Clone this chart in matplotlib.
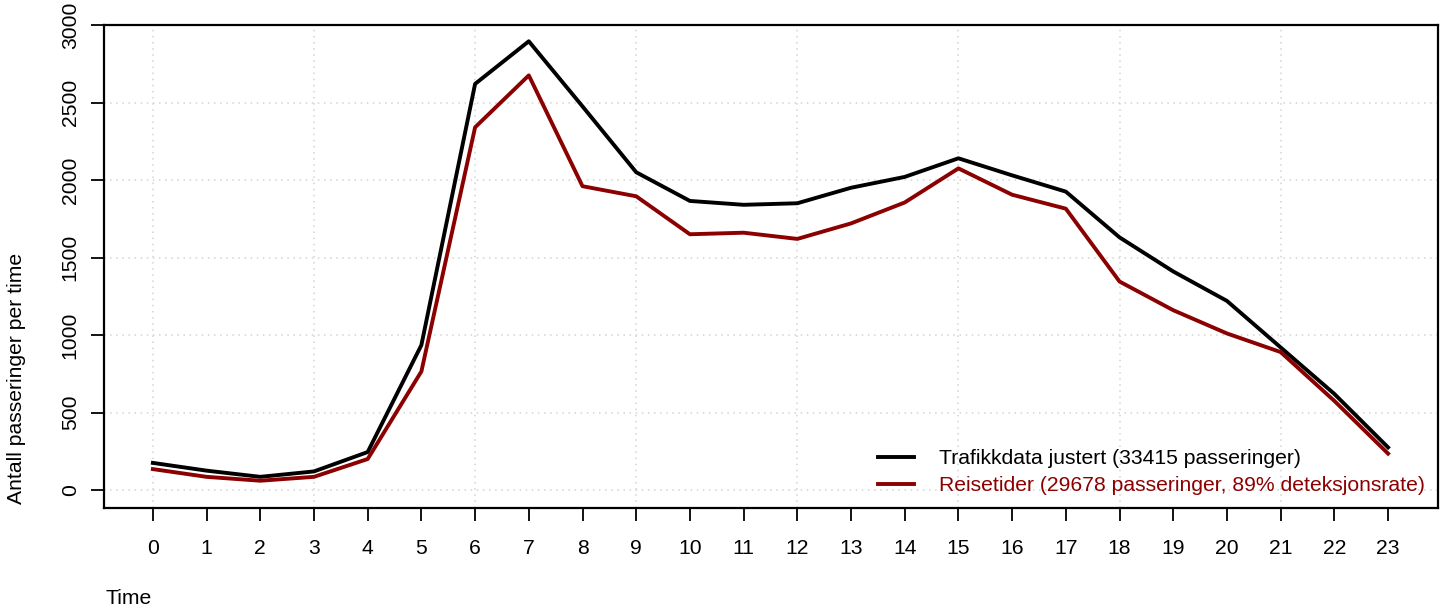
import matplotlib
matplotlib.use("Agg")
import matplotlib.pyplot as plt

hours = list(range(24))
trafikk = [175, 125, 85, 120, 245, 935, 2620, 2895, 2475, 2050, 1865, 1840,
           1850, 1950, 2020, 2140, 2030, 1925, 1630, 1410, 1220, 920, 620, 275]
reise = [135, 85, 60, 85, 200, 765, 2340, 2675, 1960, 1895, 1650, 1660,
         1620, 1720, 1855, 2075, 1905, 1815, 1345, 1160, 1010, 890, 575, 235]
label_trafikk = "Trafikkdata justert (33415 passeringer)"
label_reise = "Reisetider (29678 passeringer, 89% deteksjonsrate)"
yticks = [0, 500, 1000, 1500, 2000, 2500, 3000]
grid_x = [0, 3, 6, 9, 12, 15, 18, 21]

plt.rcParams['font.family'] = ['Liberation Sans', 'DejaVu Sans']
fs = 15.2

fig = plt.figure(figsize=(14.49, 6.12), dpi=100)
ax = fig.add_axes([104/1449, (612-508)/612, (1438-104)/1449, (508-25)/612])

for g in yticks:
    ax.axhline(g, color='#D3D3D3', lw=1.1, ls=(0, (1, 3)), zorder=0)
for g in grid_x:
    ax.axvline(g, color='#D3D3D3', lw=1.1, ls=(0, (1, 3)), zorder=0)

ax.plot(hours, trafikk, color='black', lw=2.8, label=label_trafikk, solid_joinstyle='round')
ax.plot(hours, reise, color='#8B0000', lw=2.8, label=label_reise, solid_joinstyle='round')

ax.set_xlim(-0.91, 23.93)
ax.set_ylim(-116, 3000)
ax.set_xticks(hours)
ax.set_xticklabels([str(h) for h in hours], fontsize=fs)
ax.set_yticks(yticks)
ax.set_yticklabels([str(v) for v in yticks], fontsize=fs, rotation=90, va='center')
ax.tick_params(axis='both', direction='out', length=9.5, width=1.3, colors='black')
ax.tick_params(axis='x', pad=13)
ax.tick_params(axis='y', pad=8)
for s in ax.spines.values():
    s.set_linewidth(1.6)
    s.set_color('black')

fig.text(17/1449, 1 - 504/612, "Antall passeringer per time", fontsize=fs,
         rotation=90, ha='center', va='bottom')
fig.text(105/1449, 1 - 598/612, "Time", fontsize=fs, ha='left', va='center')

leg = ax.legend(loc='lower right', frameon=False, fontsize=fs, handlelength=1.7,
                handletextpad=1.2, borderaxespad=0.2, labelspacing=0.38,
                bbox_to_anchor=(1.0, 0.0))
for t, c in zip(leg.get_texts(), ['black', '#8B0000']):
    t.set_color(c)

fig.savefig("out.png", dpi=100)
